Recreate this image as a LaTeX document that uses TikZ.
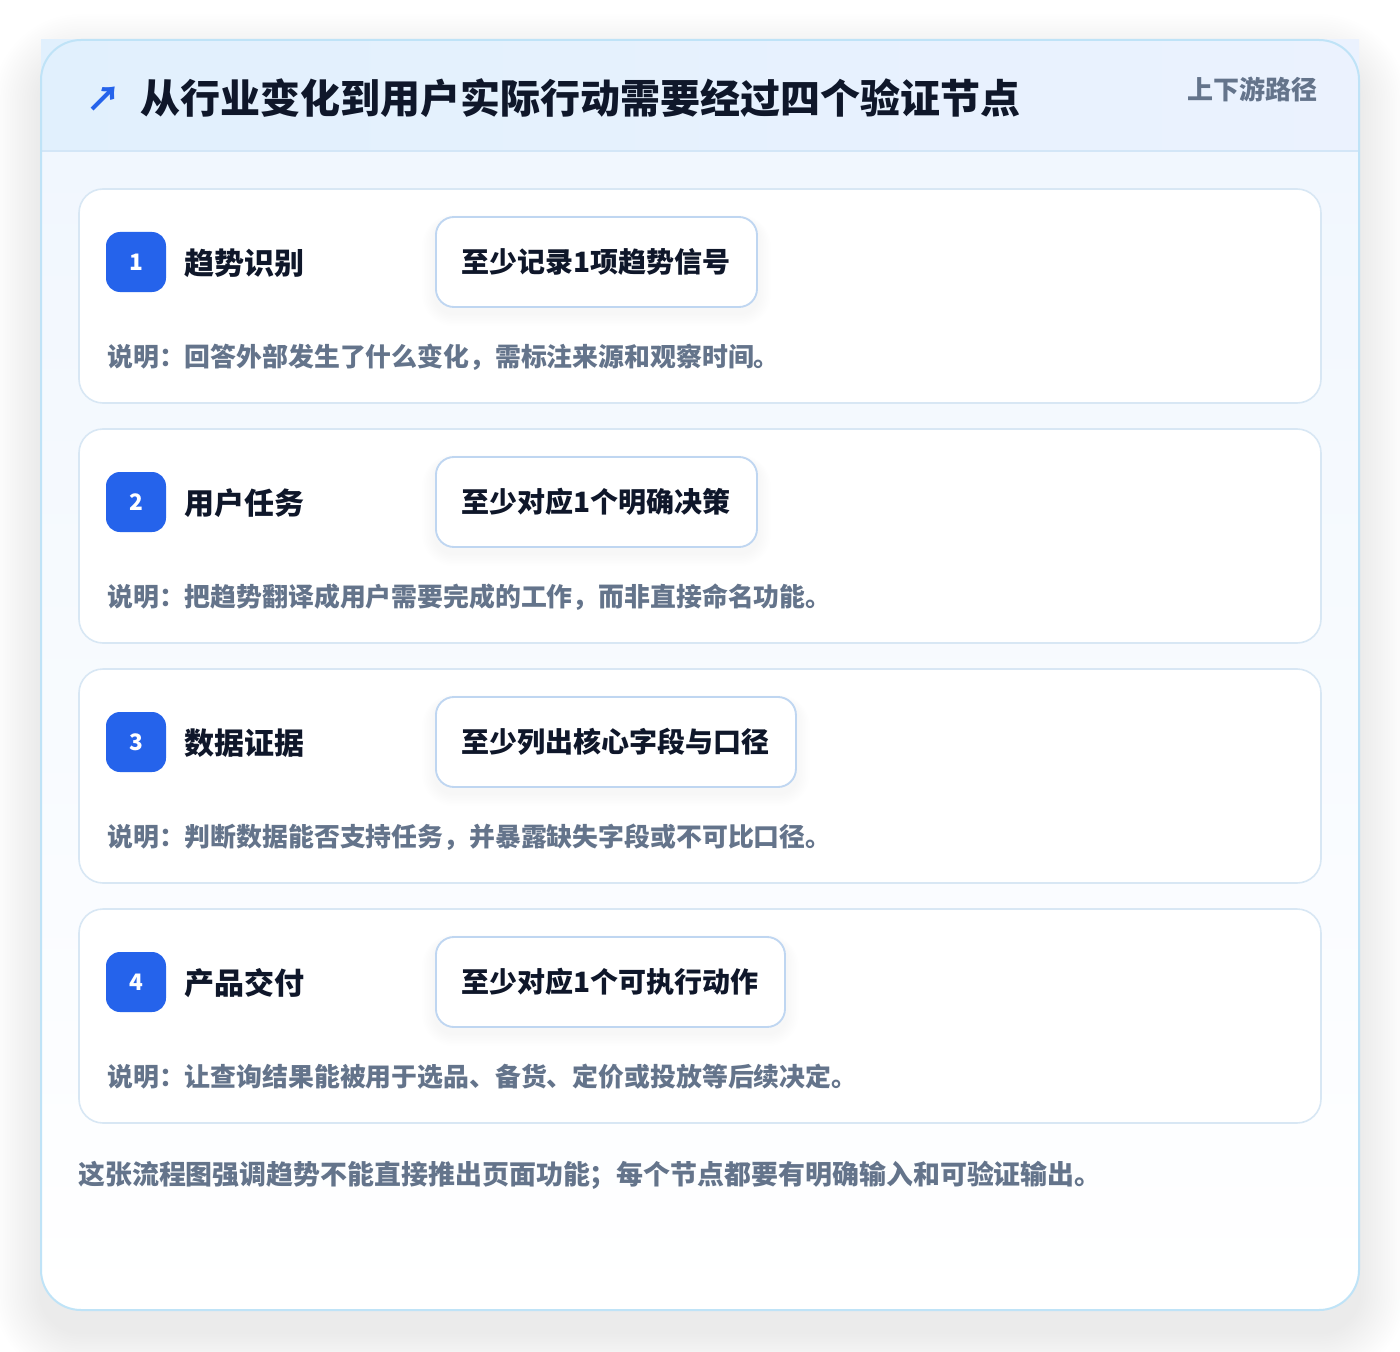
\documentclass[tikz,border=0pt]{standalone}
\usepackage{fontspec}
\setmainfont{Noto Sans CJK SC}
\usetikzlibrary{positioning}

\definecolor{inkdark}{HTML}{0F172A}
\definecolor{inkgray}{HTML}{64748B}
\definecolor{badgeblue}{HTML}{2563EB}
\definecolor{outerline}{HTML}{BFE3F7}
\definecolor{cardline}{HTML}{D8E7F4}
\definecolor{pillline}{HTML}{BFD6F1}
\definecolor{headleft}{HTML}{E1F0FD}
\definecolor{headright}{HTML}{EBF2FE}
\definecolor{headrule}{HTML}{D3E6F7}
\definecolor{bodytop}{HTML}{F1F7FE}
\definecolor{shadowink}{HTML}{1E293B}

\pgfdeclarelayer{cardlayer}
\pgfdeclarelayer{shadelayer}
\pgfsetlayers{cardlayer,shadelayer,main}

\tikzset{
  cardbox/.style={draw=cardline,line width=1.2pt,fill=white,rounded corners=18pt},
  badge/.style={fill=badgeblue,rounded corners=10.5pt,minimum size=45pt,inner sep=0pt,
    text=white,font=\bfseries\fontsize{17}{17}\selectfont},
  steptitle/.style={anchor=west,inner sep=0pt,text=inkdark,font=\bfseries\fontsize{22.5}{24}\selectfont},
  goalbox/.style={anchor=west,draw=pillline,line width=1.4pt,fill=white,rounded corners=13.5pt,
    minimum height=67.5pt,inner xsep=19.5pt,text=inkdark,font=\bfseries\fontsize{21}{22}\selectfont},
  note/.style={anchor=west,inner sep=0pt,text=inkgray,font=\bfseries\fontsize{19.4}{20}\selectfont}
}

\begin{document}
\begin{tikzpicture}[x=0.75pt,y=-0.75pt]
\useasboundingbox (0,0) rectangle (1400,1352);
\begin{pgfonlayer}{cardlayer}
\fill[white] (0,0) rectangle (1400,1352);
\clip (0,0) rectangle (1400,1352);
% soft shadow of the outer panel
\foreach \k in {1,...,20}
  \fill[shadowink,opacity=0.0035,rounded corners=30pt+1.8pt*\k]
    (41-2.4*\k,40-2.4*\k+22) rectangle (1359+2.4*\k,1310+2.4*\k+22);
% outer panel
\begin{scope}
\clip[rounded corners=30pt] (41,40) rectangle (1359,1310);
\fill[white] (41,40) rectangle (1359,1310);
\shade[top color=bodytop,bottom color=white] (41,151) rectangle (1359,1310);
\end{scope}
\shade[left color=headleft,right color=headright] (41,40) rectangle (1359,151);
\draw[headrule,line width=1.2pt] (41,151) -- (1359,151);
\draw[outerline,line width=1.5pt,rounded corners=30pt] (41,40) rectangle (1359,1310);
\end{pgfonlayer}

% header
\node[anchor=west,inner sep=0pt,text=badgeblue,font=\bfseries\fontsize{26}{26}\selectfont] (arrow) at (86,99) {↗};
\node[anchor=west,inner sep=0pt,text=inkdark,font=\bfseries\fontsize{30}{32}\selectfont] (title) at (140,98) {从行业变化到用户实际行动需要经过四个验证节点};
\node[anchor=east,inner sep=0pt,text=inkgray,font=\bfseries\fontsize{19.5}{20}\selectfont] (route) at (1318,89) {上下游路径};

% the four steps
\foreach \n/\name/\goal/\desc [count=\i from 0] in {
  1/趋势识别/至少记录1项趋势信号/说明：回答外部发生了什么变化，需标注来源和观察时间。,
  2/用户任务/至少对应1个明确决策/说明：把趋势翻译成用户需要完成的工作，而非直接命名功能。,
  3/数据证据/至少列出核心字段与口径/说明：判断数据能否支持任务，并暴露缺失字段或不可比口径。,
  4/产品交付/至少对应1个可执行动作/说明：让查询结果能被用于选品、备货、定价或投放等后续决定。}
{
  \pgfmathsetmacro\cardtop{189+240*\i}
  \begin{pgfonlayer}{cardlayer}
    \draw[cardbox] (79,\cardtop) rectangle (1321,\cardtop+214);
  \end{pgfonlayer}
  \node[badge] (badge\n) at (136,\cardtop+73) {\n};
  \node[steptitle] (name\n) at (184,\cardtop+74) {\name};
  \node[goalbox] (goal\n) at (435,\cardtop+73) {\goal};
  \begin{pgfonlayer}{shadelayer}
    \foreach \s in {1,...,8}
      \fill[shadowink,opacity=0.005,rounded corners=13.5pt+\s*1.2pt]
        ([xshift=-\s*1.2pt,yshift=-4pt-\s*1.2pt]goal\n.south west) rectangle ([xshift=\s*1.2pt,yshift=\s*0.5pt-3pt]goal\n.north east);
  \end{pgfonlayer}
  \node[note] (note\n) at (107,\cardtop+168) {\desc};
}

% closing remark
\node[anchor=west,inner sep=0pt,text=inkgray,font=\bfseries\fontsize{20.2}{22}\selectfont] (summary) at (78,1175) {这张流程图强调趋势不能直接推出页面功能；每个节点都要有明确输入和可验证输出。};
\end{tikzpicture}
\end{document}
